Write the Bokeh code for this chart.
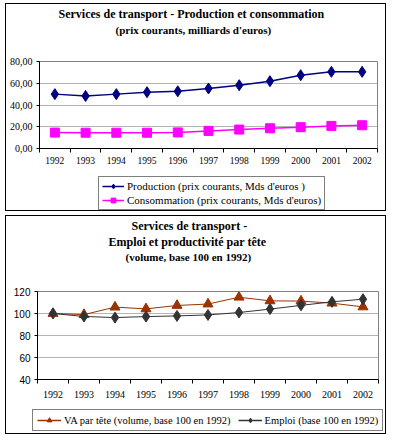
from bokeh.plotting import figure
from bokeh.models import FixedTicker, Legend, LegendItem, Title, Range1d
from bokeh.layouts import column
from bokeh.embed import file_html
from bokeh.resources import INLINE

# ---------------- data ----------------
years = [1992, 1993, 1994, 1995, 1996, 1997, 1998, 1999, 2000, 2001, 2002]
year_labels = ["1992", "1993", "1994", "1995", "1996", "1997", "1998", "1999", "2000", "2001", "2002"]

production = [50.0, 48.3, 50.0, 51.8, 52.6, 55.2, 58.2, 61.9, 67.4, 70.5, 70.5]
consommation = [14.6, 14.5, 14.5, 14.5, 14.8, 16.2, 17.4, 18.6, 19.6, 20.8, 21.4]
y1_ticks = [0, 20, 40, 60, 80]
y1_labels = ["0,00", "20,00", "40,00", "60,00", "80,00"]

va_par_tete = [100.0, 99.0, 105.8, 104.2, 107.3, 108.6, 114.8, 111.5, 111.3, 109.4, 106.0]
emploi = [100.0, 97.3, 96.3, 97.2, 97.8, 98.7, 100.9, 104.0, 107.4, 110.6, 113.0]
y2_ticks = [40, 60, 80, 100, 120]
y2_labels = ["40", "60", "80", "100", "120"]

SERIF = "Liberation Serif"
SANS = "Liberation Sans"
NAVY, MAGENTA, BROWN, DARK = "#000080", "#FF00FF", "#993300", "#333333"
W = 379


def style_x(p, font_size, standoff):
    p.xaxis.ticker = FixedTicker(ticks=years, minor_ticks=[y - 0.5 for y in years] + [years[-1] + 0.5])
    p.xaxis.major_label_overrides = {y: l for y, l in zip(years, year_labels)}
    p.xaxis.major_tick_line_color = None
    p.xaxis.minor_tick_line_color = "black"
    p.xaxis.minor_tick_in = 0
    p.xaxis.minor_tick_out = 4
    p.xaxis.axis_line_color = "black"
    p.xaxis.major_label_text_font = SERIF
    p.xaxis.major_label_text_font_size = font_size
    p.xaxis.major_label_text_color = "black"
    p.xaxis.major_label_standoff = standoff
    p.xgrid.grid_line_color = None


def style_y(p, ticks, labels, font, font_size):
    p.yaxis.ticker = FixedTicker(ticks=ticks, minor_ticks=[])
    p.yaxis.major_label_overrides = {t: l for t, l in zip(ticks, labels)}
    p.yaxis.major_tick_in = 0
    p.yaxis.major_tick_out = 3
    p.yaxis.major_tick_line_color = "black"
    p.yaxis.axis_line_color = "black"
    p.yaxis.major_label_text_font = font
    p.yaxis.major_label_text_font_size = font_size
    p.yaxis.major_label_text_color = "black"
    p.yaxis.major_label_standoff = 4
    p.ygrid.ticker = FixedTicker(ticks=ticks)
    p.ygrid.grid_line_color = "#b4b4b4"
    p.ygrid.grid_line_width = 1


def make_title(t, text, size, offset, standoff):
    t.text = text
    t.text_font = SERIF
    t.text_font_style = "bold"
    t.text_font_size = size
    t.align = "left"
    t.offset = offset
    t.standoff = standoff
    t.text_color = "black"
    return t


def no_align(f):
    if "frame_align" in f.properties():
        f.frame_align = False
        return True
    return False


def legend_fig(height, items, orientation, location, padding, font_size, glyph_width, spacing,
               border_left=0, border_right=0):
    f = figure(width=W, height=height, output_backend="svg", toolbar_location=None,
               x_range=Range1d(0, 1), y_range=Range1d(0, 1),
               x_axis_location=None, y_axis_location=None,
               min_border_left=border_left, min_border_right=border_right,
               min_border_top=0, min_border_bottom=0)
    no_align(f)
    f.outline_line_color = None
    f.xgrid.grid_line_color = None
    f.ygrid.grid_line_color = None
    leg_items = []
    for label, color, marker, size in items:
        r_line = f.line([-10, -9], [-10, -9], line_color=color, line_width=1.5)
        r_mark = f.scatter([-10], [-10], marker=marker, size=size, fill_color=color, line_color=color)
        leg_items.append(LegendItem(label=label, renderers=[r_line, r_mark]))
    lg = Legend(items=leg_items, orientation=orientation, location=location)
    lg.border_line_color = "black"
    lg.border_line_width = 1
    lg.background_fill_color = "white"
    lg.background_fill_alpha = 1
    lg.margin = 0
    lg.padding = padding
    lg.spacing = spacing
    lg.glyph_width = glyph_width
    lg.glyph_height = 12
    lg.label_height = 12
    lg.label_standoff = 3
    lg.label_text_font = SERIF
    lg.label_text_font_size = font_size
    lg.label_text_color = "black"
    f.add_layout(lg)
    return f


# ---------------- top chart ----------------
p1 = figure(width=W, height=172, output_backend="svg", toolbar_location=None,
            x_range=Range1d(1991.5, 2002.5), y_range=Range1d(0, 80),
            min_border_left=33, min_border_right=8, min_border_top=0, min_border_bottom=28)
no_align(p1)
p1.outline_line_color = "#808080"
style_x(p1, "9.5px", 2)
style_y(p1, y1_ticks, y1_labels, SERIF, "10px")

# above stack: first added is closest to the frame, figure title outermost
p1.add_layout(make_title(Title(), "\u00a0", "11px", 0, 11), "above")
p1.add_layout(make_title(Title(), "(prix courants, milliards d'euros)", "11px", 76, 2), "above")
make_title(p1.title, "Services de transport - Production et consommation", "12px", 19, 0)

p1.line(years, production, line_color=NAVY, line_width=1.5)
p1.scatter(years, production, marker="diamond", size=11, fill_color=NAVY, line_color=NAVY)
p1.line(years, consommation, line_color=MAGENTA, line_width=1.5)
p1.scatter(years, consommation, marker="square", size=9, fill_color=MAGENTA, line_color=MAGENTA)

# legend figure shares the chart's frame edges, so the offset is the same aligned or not
lf1 = legend_fig(34, [
    ("Production (prix courants, Mds d'euros )", NAVY, "diamond", 11),
    ("Consommation (prix courants, Mds d'euros)", MAGENTA, "square", 9),
], "vertical", (59, 0), 3, "11px", 22, 2, border_left=33, border_right=8)

# ---------------- bottom chart ----------------
p2 = figure(width=W, height=188, output_backend="svg", toolbar_location=None,
            x_range=Range1d(1991.5, 2002.5), y_range=Range1d(40, 120),
            min_border_left=31, min_border_right=7, min_border_top=0, min_border_bottom=25)
no_align(p2)
p2.outline_line_color = "#808080"
style_x(p2, "10px", 5)
style_y(p2, y2_ticks, y2_labels, SANS, "10px")

p2.add_layout(make_title(Title(), "\u00a0", "11px", 0, 15), "above")
p2.add_layout(make_title(Title(), "(volume, base 100 en 1992)", "11px", 88, 0), "above")
p2.add_layout(make_title(Title(), "Emploi et productivité par tête", "12px", 71, 0), "above")
make_title(p2.title, "Services de transport -", "12px", 94, 0)

p2.line(years, va_par_tete, line_color=BROWN, line_width=1)
p2.scatter(years, va_par_tete, marker="triangle", size=10, fill_color=BROWN, line_color=BROWN)
p2.line(years, emploi, line_color=DARK, line_width=1)
p2.scatter(years, emploi, marker="diamond", size=11, fill_color=DARK, line_color=DARK)

lf2 = legend_fig(29, [
    ("VA par tête (volume, base 100 en 1992)", BROWN, "triangle", 10),
    ("Emploi (base 100 en 1992)", DARK, "diamond", 11),
], "horizontal", (26, 2), 4, "10.5px", 24, 7)

panel1 = column(p1, lf1, spacing=0, styles={"border": "1px solid black"})
panel2 = column(p2, lf2, spacing=0, styles={"border": "1px solid black"})
layout = column(panel1, panel2, spacing=4, styles={"margin-left": "5px", "margin-top": "3px"})

open("out.html", "w").write(file_html(layout, INLINE))
